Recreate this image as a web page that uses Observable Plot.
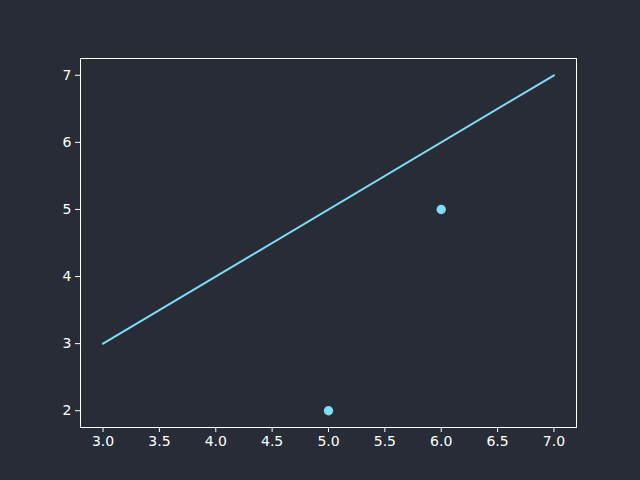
<!DOCTYPE html>
<html><head><meta charset="utf-8">
<script src="https://cdn.jsdelivr.net/npm/d3@7"></script>
<script src="https://cdn.jsdelivr.net/npm/@observablehq/plot@0.6"></script>
<style>
html,body{margin:0;padding:0;background:#282c36;}
#chart svg{display:block;}
</style></head>
<body><div id="chart"></div>
<script>
const lineX = [3, 7];
const lineY = [3, 7];
const pointX = [5, 6];
const pointY = [2, 5];
const xTicks = [3.0, 3.5, 4.0, 4.5, 5.0, 5.5, 6.0, 6.5, 7.0];
const yTicks = [2, 3, 4, 5, 6, 7];

const lineData = lineX.map((x, i) => ({x, y: lineY[i]}));
const pointData = pointX.map((x, i) => ({x, y: pointY[i]}));

const fg = "#ffffff";
const cyan = "#80dcf8";

const chart = Plot.plot({
  width: 640, height: 480,
  marginLeft: 80, marginRight: 64, marginTop: 58, marginBottom: 53,
  style: {background: "#282c36", color: fg, fontFamily: "DejaVu Sans", fontSize: "14px"},
  x: {domain: [2.8, 7.2], label: null},
  y: {domain: [1.75, 7.25], label: null},
  marks: [
    Plot.frame({stroke: fg, strokeWidth: 1}),
    Plot.axisX({ticks: xTicks, tickFormat: d3.format(".1f"), tickSize: 5, tickPadding: 4, stroke: fg, fill: fg, label: null, fontSize: 14, fontFamily: "DejaVu Sans"}),
    Plot.axisY({ticks: yTicks, tickFormat: d3.format("d"), tickSize: 5, tickPadding: 4, stroke: fg, fill: fg, label: null, fontSize: 14, fontFamily: "DejaVu Sans"}),
    Plot.line(lineData, {x: "x", y: "y", stroke: cyan, strokeWidth: 2}),
    Plot.dot(pointData, {x: "x", y: "y", fill: cyan, r: 4.7})
  ]
});
document.getElementById("chart").append(chart);
</script></body></html>
